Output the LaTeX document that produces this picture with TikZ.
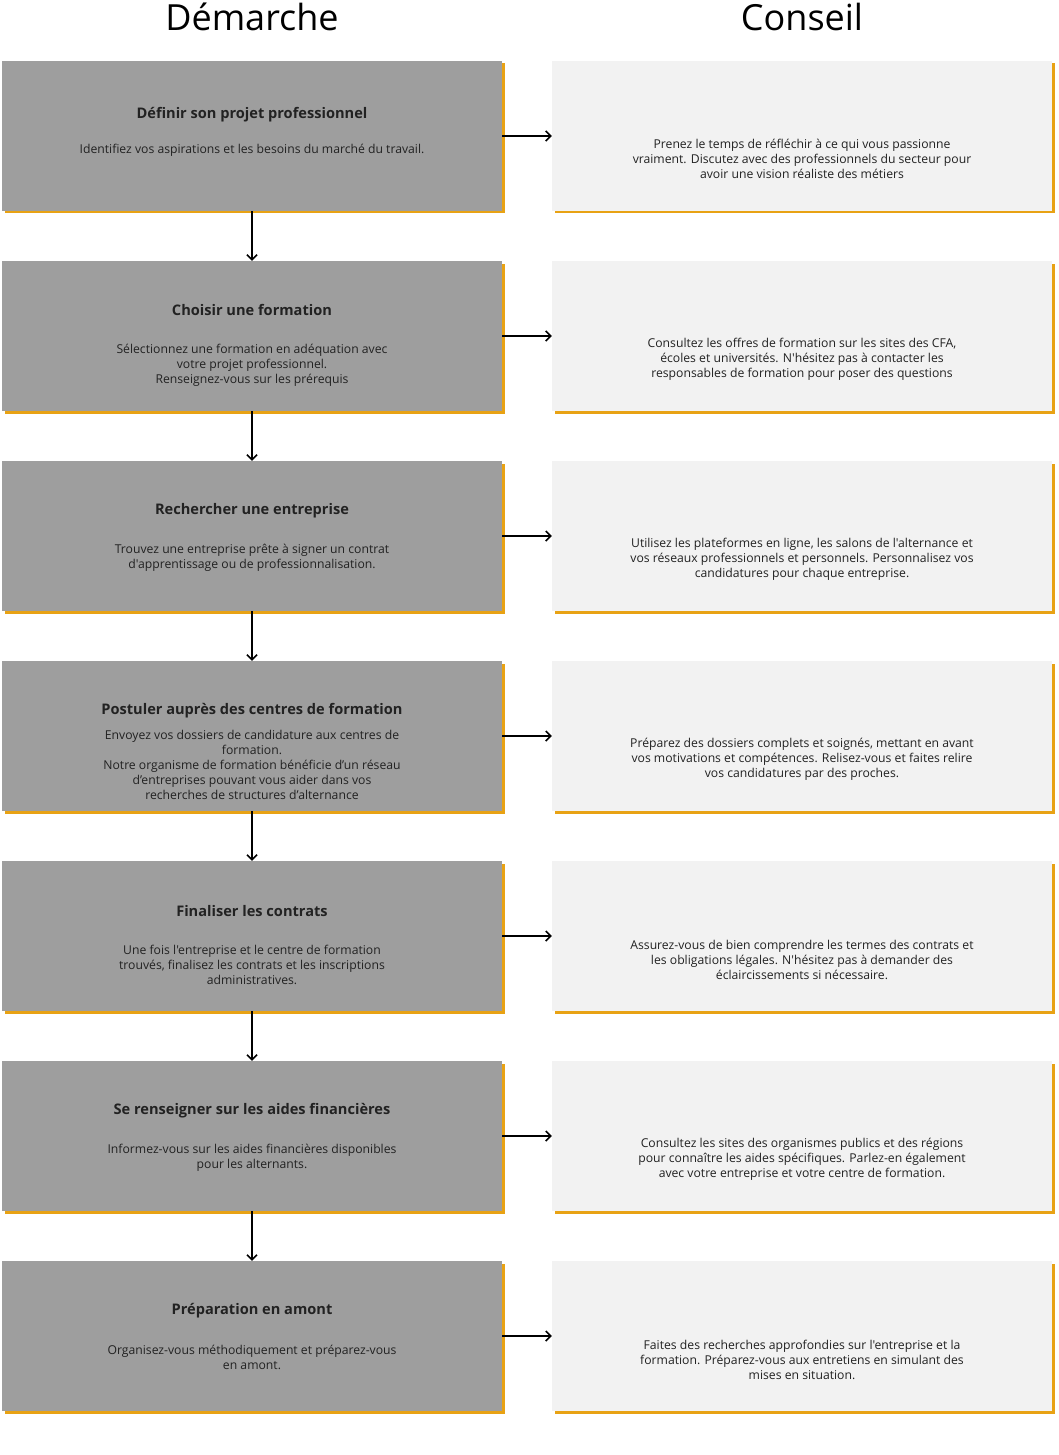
\documentclass[tikz,border=0pt]{standalone}
\usepackage{fontspec}
\setmainfont{Open Sans}[Ligatures=TeXOff]
\usetikzlibrary{shadows,arrows.meta}
\definecolor{leftfill}{RGB}{158,158,158}
\definecolor{rightfill}{RGB}{242,242,242}
\definecolor{gold}{RGB}{232,162,20}
\definecolor{ink}{RGB}{34,34,34}
\begin{document}
\begin{tikzpicture}[x=1pt,y=-1pt,
  leftbox/.style={draw=none,fill=leftfill,minimum width=500pt,minimum height=150pt,inner sep=0pt,
    drop shadow={shadow xshift=2.5pt,shadow yshift=-2.5pt,fill=gold,opacity=1}},
  rightbox/.style={draw=none,fill=rightfill,minimum width=500pt,minimum height=150pt,inner sep=0pt,
    drop shadow={shadow xshift=2.5pt,shadow yshift=-2.5pt,fill=gold,opacity=1}},
  ttl/.style={font=\bfseries\fontsize{14.6}{17}\selectfont,text=ink,inner sep=0pt},
  body/.style={font=\fontsize{12.2}{15}\selectfont,text=ink,align=center,inner sep=0pt},
  hdr/.style={font=\fontsize{36}{40}\selectfont,text=black,inner sep=0pt},
  conn/.style={-{Straight Barb[length=5pt,width=10pt,line width=1.5pt]},line width=1.5pt,black}
]
\useasboundingbox[fill=white] (0,0) rectangle (1058,1455);
\node[hdr] (hL) at (252,17) {Démarche};
\node[hdr] (hR) at (802,17) {Conseil};
\foreach \i in {1,...,7}{
  \pgfmathsetmacro{\cy}{136+200*(\i-1)}
  \node[leftbox] (L\i) at (252,\cy) {};
  \node[rightbox] (R\i) at (802,\cy) {};
}
% left texts
\node[ttl] (t1) at (252,115) {Définir son projet professionnel};
\node[body] (b1) at (252,150) {Identifiez vos aspirations et les besoins du marché du travail.};
\node[ttl] (t2) at (252,310) {Choisir une formation};
\node[body] (b2) at (252,365) {Sélectionnez une formation en adéquation avec\\votre projet professionnel.\\Renseignez-vous sur les prérequis};
\node[ttl] (t3) at (252,511) {Rechercher une entreprise};
\node[body] (b3) at (252,557.5) {Trouvez une entreprise prête à signer un contrat\\d'apprentissage ou de professionnalisation.};
\node[ttl] (t4) at (252,711) {Postuler auprès des centres de formation};
\node[body] (b4) at (252,765) {Envoyez vos dossiers de candidature aux centres de\\formation.\\Notre organisme de formation bénéficie d’un réseau\\d’entreprises pouvant vous aider dans vos\\recherches de structures d’alternance};
\node[ttl] (t5) at (252,911) {Finaliser les contrats};
\node[body] (b5) at (252,965) {Une fois l'entreprise et le centre de formation\\trouvés, finalisez les contrats et les inscriptions\\administratives.};
\node[ttl] (t6) at (252,1111) {Se renseigner sur les aides financières};
\node[body] (b6) at (252,1157.5) {Informez-vous sur les aides financières disponibles\\pour les alternants.};
\node[ttl] (t7) at (252,1311) {Préparation en amont};
\node[body] (b7) at (252,1357.5) {Organisez-vous méthodiquement et préparez-vous\\en amont.};
% right texts
\node[body] (c1) at (802,159) {Prenez le temps de réfléchir à ce qui vous passionne\\vraiment. Discutez avec des professionnels du secteur pour\\avoir une vision réaliste des métiers};
\node[body] (c2) at (802,359.5) {Consultez les offres de formation sur les sites des CFA,\\écoles et universités. N'hésitez pas à contacter les\\responsables de formation pour poser des questions};
\node[body] (c3) at (802,559.5) {Utilisez les plateformes en ligne, les salons de l'alternance et\\vos réseaux professionnels et personnels. Personnalisez vos\\candidatures pour chaque entreprise.};
\node[body] (c4) at (802,759.5) {Préparez des dossiers complets et soignés, mettant en avant\\vos motivations et compétences. Relisez-vous et faites relire\\vos candidatures par des proches.};
\node[body] (c5) at (802,959.5) {Assurez-vous de bien comprendre les termes des contrats et\\les obligations légales. N'hésitez pas à demander des\\éclaircissements si nécessaire.};
\node[body] (c6) at (802,1159.5) {Consultez les sites des organismes publics et des régions\\pour connaître les aides spécifiques. Parlez-en également\\avec votre entreprise et votre centre de formation.};
\node[body] (c7) at (802,1359.5) {Faites des recherches approfondies sur l'entreprise et la\\formation. Préparez-vous aux entretiens en simulant des\\mises en situation.};
% connectors
\foreach \i in {1,...,7}{ \draw[conn] (L\i.east) -- (R\i.west); }
\foreach \i/\j in {1/2,2/3,3/4,4/5,5/6,6/7}{ \draw[conn] (L\i.south) -- (L\j.north); }
\end{tikzpicture}
\end{document}
